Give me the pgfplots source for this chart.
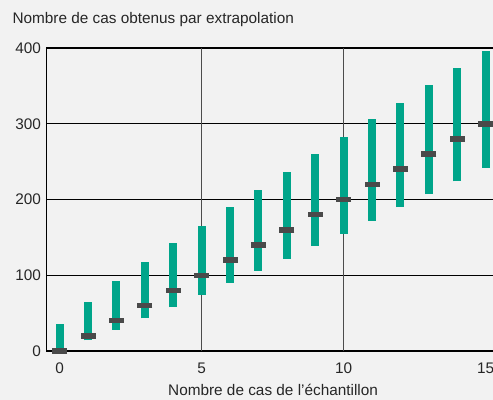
\documentclass[border=0pt]{standalone}
\usepackage{pgfplots}
\pgfplotsset{compat=1.18}
\usepackage{pgfplotstable}
\usepackage{fontspec}
\setmainfont{Liberation Sans}
\definecolor{bg}{HTML}{F2F2F2}
\definecolor{barteal}{HTML}{00A58A}
\definecolor{medgrey}{HTML}{4A4A4A}

% x, low and high end of the range, central value
\pgfplotstableread{
x  lo  hi  med
0  0   36  0
1  14  65  20
2  28  92  40
3  43  117 60
4  58  142 80
5  74  165 100
6  90  190 120
7  106 213 140
8  122 236 160
9  139 260 180
10 155 283 200
11 172 306 220
12 190 328 240
13 207 351 260
14 224 374 280
15 242 396 300
}\ranges

\begin{document}
\begin{tikzpicture}
\fill[bg] (-46bp,-49bp) rectangle (447bp,351bp);
\useasboundingbox (-46bp,-49bp) rectangle (447bp,351bp);
\begin{axis}[
    at={(0,0)}, anchor=south west,
    scale only axis, width=447bp, height=303bp,
    xmin=-0.48, xmax=15.26, ymin=0, ymax=400,
    axis lines=left, axis line style={-},
    x axis line style={line width=2.2bp, black},
    y axis line style={line width=0.8bp, black},
    xtick={0,5,10,15}, ytick={0,100,200,300,400},
    major tick length=0pt,
    ymajorgrids, grid style={line width=1.3bp, black},
    extra x ticks={5,10}, extra x tick labels={},
    extra x tick style={grid=major, major grid style={line width=0.9bp, black!70}},
    tick label style={font=\fontsize{15.4}{17}\selectfont, text=black!85,
        /pgf/number format/assume math mode=true},
    xticklabel style={yshift=-8bp},
    yticklabel style={xshift=-1.5bp},
    title={Nombre de cas obtenus par extrapolation},
    title style={font=\fontsize{15.4}{17}\selectfont, text=black!85,
        at={(axis description cs:0,1)}, anchor=base west, xshift=-37bp, yshift=19bp},
    xlabel={Nombre de cas de l'échantillon},
    xlabel style={font=\fontsize{15.4}{17}\selectfont, text=black!85,
        at={(axis description cs:0.508,0)}, anchor=base, yshift=-44bp},
    clip=false,
]
\addplot[draw=none, mark=none,
    error bars/.cd, y dir=plus, y explicit,
    error mark=none,
    error bar style={line width=8bp, barteal}]
    table[x=x, y=lo, y error expr=\thisrow{hi}-\thisrow{lo}] {\ranges};
\addplot[only marks, mark=-, mark size=7.5bp,
    mark options={line width=5.5bp, medgrey}]
    table[x=x, y=med] {\ranges};
\end{axis}
\end{tikzpicture}
\end{document}
